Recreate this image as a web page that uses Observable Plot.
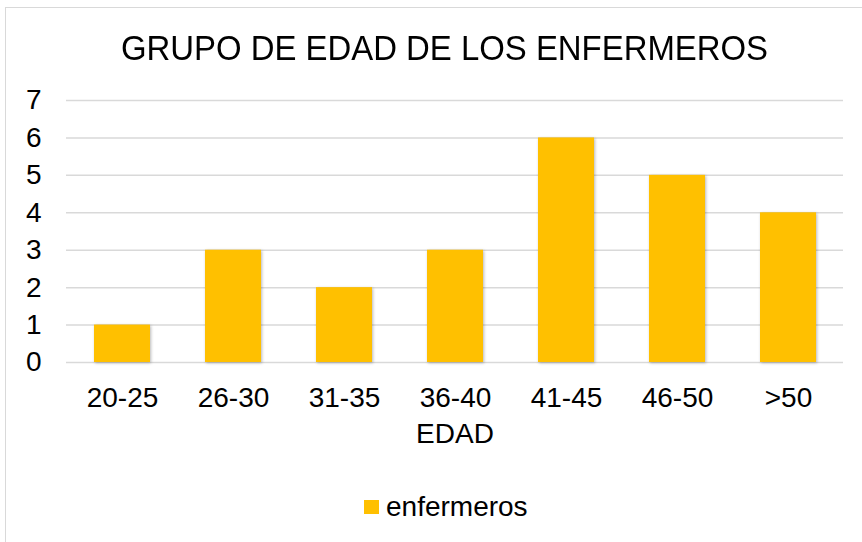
<!DOCTYPE html>
<html>
<head>
<meta charset="utf-8">
<script src="https://cdn.jsdelivr.net/npm/d3@7"></script>
<script src="https://cdn.jsdelivr.net/npm/@observablehq/plot@0.6"></script>
<style>
  html, body { margin: 0; padding: 0; background: #fff; overflow: hidden; }
  body { width: 862px; height: 542px; position: relative; font-family: "Liberation Sans", Arial, sans-serif; color: #000; }
  #frame { position: absolute; left: 5px; top: 7px; width: 900px; height: 600px; border: 1.5px solid #d9d9d9; box-sizing: border-box; }
  #title { position: absolute; left: 0; top: 30px; width: 889px; text-align: center; font-size: 35px; line-height: 1; white-space: nowrap; transform: scaleX(0.94); transform-origin: 444px 0; }
  #chart { position: absolute; left: 0; top: 80px; }
  #legend { position: absolute; left: 364px; top: 493px; font-size: 28px; line-height: 1; display: flex; align-items: flex-start; white-space: nowrap; }
  #legend .sw { width: 15px; height: 14px; background: #FFC000; margin-right: 7px; margin-top: 7px; }
  .bars rect { filter: drop-shadow(1.5px 1.5px 1.5px rgba(0,0,0,0.28)); }
</style>
</head>
<body>
<div id="frame"></div>
<div id="title">GRUPO DE EDAD DE LOS ENFERMEROS</div>
<div id="chart"></div>
<div id="legend"><span class="sw"></span><span>enfermeros</span></div>
<script>
const categories = ["20-25", "26-30", "31-35", "36-40", "41-45", "46-50", ">50"];
const values = [1, 3, 2, 3, 6, 5, 4];
const yTicks = [0, 1, 2, 3, 4, 5, 6, 7];
const seriesName = "enfermeros";
const xTitle = "EDAD";

const data = categories.map((c, i) => ({edad: c, n: values[i]}));

const chart = Plot.plot({
  width: 862,
  height: 380,
  marginTop: 20,
  marginBottom: 98,
  marginLeft: 66,
  marginRight: 19,
  style: {fontFamily: "'Liberation Sans', Arial, sans-serif", fontSize: "28px", color: "#000", background: "transparent"},
  x: {domain: categories, paddingInner: 0.5, paddingOuter: 0.25, label: null},
  y: {domain: [0, 7], label: null},
  marks: [
    Plot.ruleY(yTicks, {stroke: "#d9d9d9", strokeWidth: 1.5}),
    Plot.barY(data, {x: "edad", y: "n", fill: "#FFC000", className: "bars"}),
    Plot.axisX({tickSize: 0, tickPadding: 25, fontSize: 28, label: null}),
    Plot.axisY({ticks: yTicks, tickFormat: d3.format("d"), tickSize: 0, tickPadding: 25, fontSize: 28, label: null}),
    Plot.text([xTitle], {frameAnchor: "bottom", dy: 80, fontSize: 28, fill: "#000"})
  ]
});
document.getElementById("chart").appendChild(chart);
</script>
</body>
</html>
